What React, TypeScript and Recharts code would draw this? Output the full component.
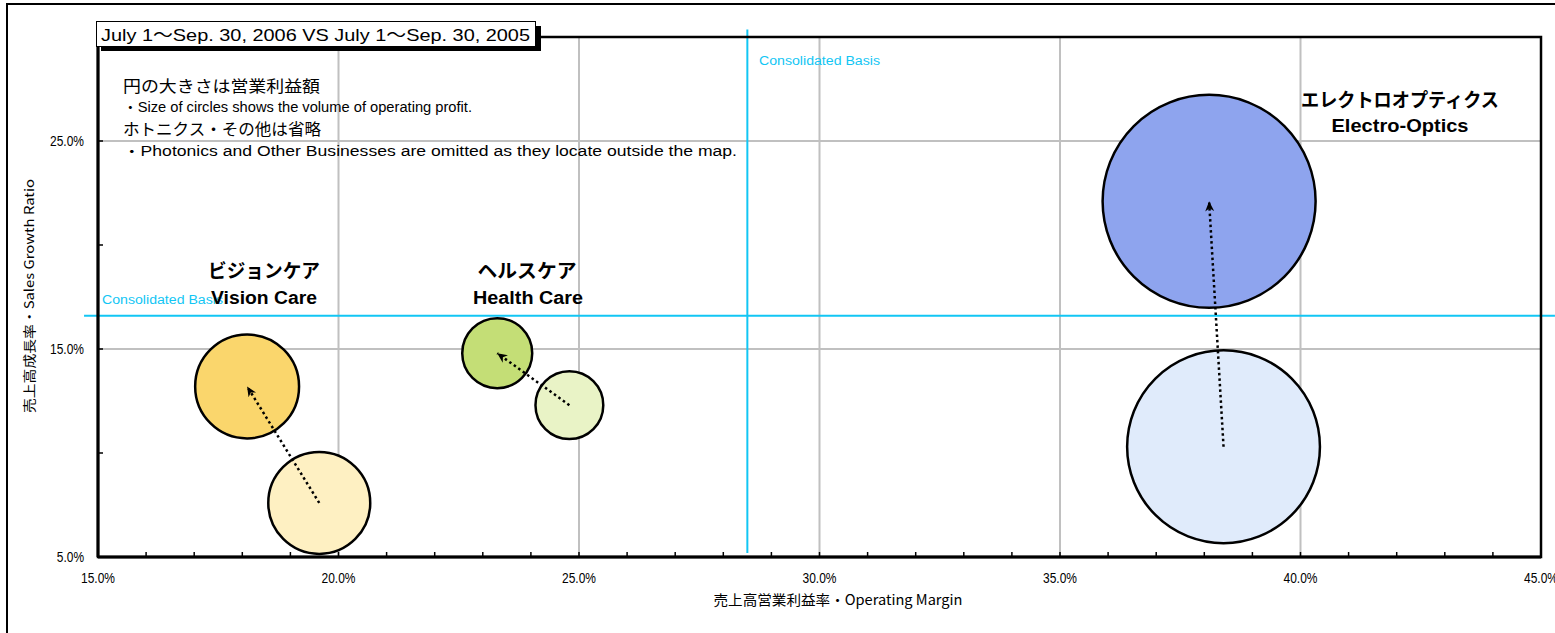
import React from 'react';
import { ScatterChart, Scatter, XAxis, YAxis, ZAxis, CartesianGrid, ReferenceLine } from 'recharts';

// ---- data ----
const segmentsJa = ['ビジョンケア', 'ヘルスケア', 'エレクトロオプティクス'];
const segmentsEn = ['Vision Care', 'Health Care', 'Electro-Optics'];
const margin2005 = [19.6, 24.8, 38.4];
const growth2005 = [7.6, 12.3, 10.3];
const profit2005 = [5.2, 2.3, 18.6];
const margin2006 = [18.1, 23.3, 38.1];
const growth2006 = [13.2, 14.8, 22.1];
const profit2006 = [5.4, 2.45, 22.7];
const consolidatedMargin = 28.5;
const consolidatedGrowth = 16.6;
const xTicks = [15, 16, 17, 18, 19, 20, 21, 22, 23, 24, 25, 26, 27, 28, 29, 30, 31, 32, 33, 34, 35, 36, 37, 38, 39, 40, 41, 42, 43, 44, 45];
const yTicks = [5, 10, 15, 20, 25];
const xGridValues = [20, 25, 30, 35, 40];
const yGridValues = [15, 25];
const xDomain: [number, number] = [15, 45];
const yDomain: [number, number] = [5, 30];
const titleText = 'July 1～Sep. 30, 2006 VS July 1～Sep. 30, 2005';
const noteLines = [
  '円の大きさは営業利益額',
  '・Size of circles shows the volume of operating profit.',
  'ホトニクス・その他は省略',
  '・Photonics and Other Businesses are omitted as  they locate outside the map.',
];
const consolidatedLabel = 'Consolidated Basis';
const xAxisTitle = '売上高営業利益率・Operating Margin';
const yAxisTitle = '売上高成長率・Sales Growth Ratio';

const data2005 = segmentsEn.map((name, i) => ({ name, seg: i, x: margin2005[i], y: growth2005[i], z: profit2005[i] }));
const data2006 = segmentsEn.map((name, i) => ({ name, seg: i, x: margin2006[i], y: growth2006[i], z: profit2006[i] }));
const arrows = segmentsEn.map((name, i) => [
  { name, x: margin2005[i], y: growth2005[i] },
  { name, x: margin2006[i], y: growth2006[i] },
]);
const maxProfit = Math.max(...profit2005, ...profit2006);

// ---- styles ----
const fill2006 = ['#FAD66C', '#C4DE76', '#8EA4EE'];
const fill2005 = ['#FEF0C2', '#E9F3C6', '#E0EBFB'];
const cyan = '#12C6F4';
const sans = "'Liberation Sans', Arial, 'Noto Sans CJK JP', sans-serif";
const narrow = "'Liberation Sans Narrow', 'Arial Narrow', 'Liberation Sans', sans-serif";
const ja = "'Noto Sans CJK JP', 'Liberation Sans', sans-serif";
const MAX_R = 106.5;

const XTick = (props: any) => {
  const { x, y, payload } = props;
  const v = payload.value as number;
  const major = v % 5 === 0;
  const label = `${v.toFixed(1)}%`;
  return (
    <g>
      <line x1={x} x2={x} y1={y} y2={y - 5} stroke="#000" strokeWidth={1.5} />
      {major && (
        <text x={x} y={y + 26} textAnchor="middle" fontSize={14} fontFamily={narrow} fill="#000"
          textLength={label.length * 6.8} lengthAdjust="spacingAndGlyphs">{label}</text>
      )}
    </g>
  );
};

const YTick = (props: any) => {
  const { x, y, payload } = props;
  const v = payload.value as number;
  const major = v % 10 === 5;
  const label = `${v.toFixed(1)}%`;
  return (
    <g>
      <line x1={x} x2={x + 5} y1={y} y2={y} stroke="#000" strokeWidth={1.5} />
      {major && (
        <text x={x - 14} y={y + 5} textAnchor="end" fontSize={14} fontFamily={narrow} fill="#000"
          textLength={label.length * 6.8} lengthAdjust="spacingAndGlyphs">{label}</text>
      )}
    </g>
  );
};

const makeBubble = (fills: string[]) => (props: any) => {
  const { cx, cy, payload } = props;
  const r = props.width ? props.width / 2 : Math.sqrt((props.size || 0) / Math.PI);
  return <circle cx={cx} cy={cy} r={r} fill={fills[payload.seg]} stroke="#000" strokeWidth={2.5} />;
};
const Bubble2005 = makeBubble(fill2005);
const Bubble2006 = makeBubble(fill2006);

const ArrowLine = (props: any) => {
  const pts = props.points || [];
  if (pts.length < 2) return <g />;
  const d = `M${pts[0].x},${pts[0].y}L${pts[1].x},${pts[1].y}`;
  return <path d={d} stroke="#000" strokeWidth={2.5} strokeDasharray="2.5 3" fill="none" markerEnd="url(#arrowHead)" />;
};

const Empty = () => <g />;

export default function App() {
  return (
    <div style={{ position: 'absolute', left: 0, top: 0, width: 1555, height: 633, background: '#fff', overflow: 'hidden' }}>
      <svg width={0} height={0} style={{ position: 'absolute' }}>
        <defs>
          <marker id="arrowHead" markerWidth="11" markerHeight="9" refX="10" refY="4.5" orient="auto" markerUnits="userSpaceOnUse">
            <path d="M0,0 L10,4.5 L0,9 L3,4.5 Z" fill="#000" />
          </marker>
        </defs>
      </svg>
      <div style={{ position: 'absolute', left: 0, top: 0 }}>
        <ScatterChart width={1555} height={633} margin={{ top: 37, right: 14, bottom: 0, left: 0 }}>
          <CartesianGrid stroke="#C0C0C0" strokeWidth={2} verticalValues={xGridValues} horizontalValues={yGridValues} />
          <XAxis type="number" dataKey="x" domain={xDomain} ticks={xTicks} interval={0} allowDataOverflow
            height={76} tick={<XTick />} tickLine={false} tickSize={0} tickMargin={0}
            axisLine={{ stroke: '#000', strokeWidth: 3 }} />
          <YAxis type="number" dataKey="y" domain={yDomain} ticks={yTicks} interval={0} allowDataOverflow
            width={98} tick={<YTick />} tickLine={false} tickSize={0} tickMargin={0}
            axisLine={{ stroke: '#000', strokeWidth: 3 }} />
          <ZAxis type="number" dataKey="z" domain={[0, maxProfit]} range={[0, Math.PI * MAX_R * MAX_R]} />
          <ReferenceLine segment={[{ x: 14.71, y: consolidatedGrowth }, { x: 45.29, y: consolidatedGrowth }]}
            stroke={cyan} strokeWidth={2} ifOverflow="visible" />
          <ReferenceLine segment={[{ x: consolidatedMargin, y: 30.36 }, { x: consolidatedMargin, y: 5.19 }]}
            stroke={cyan} strokeWidth={2} ifOverflow="visible" />
          <Scatter name="2005" data={data2005} shape={Bubble2005} isAnimationActive={false} />
          <Scatter name="2006" data={data2006} shape={Bubble2006} isAnimationActive={false} />
          {arrows.map((a, i) => (
            <Scatter key={`arrow-${i}`} name={`arrow-${i}`} data={a} shape={Empty} line={ArrowLine} isAnimationActive={false} />
          ))}
        </ScatterChart>
      </div>
      <svg width={1555} height={633} style={{ position: 'absolute', left: 0, top: 0, pointerEvents: 'none' }}>
        {/* outer frame */}
        <rect x={7} y={4} width={1600} height={700} fill="none" stroke="#000" strokeWidth={2} />
        {/* plot frame */}
        <rect x={98} y={37} width={1443} height={520} fill="none" stroke="#000" strokeWidth={2.5} />
        {/* consolidated labels */}
        <text x={759} y={65} fontSize={12} fontFamily={sans} fill={cyan} textLength={121} lengthAdjust="spacingAndGlyphs">{consolidatedLabel}</text>
        <text x={102} y={304} fontSize={12} fontFamily={sans} fill={cyan} textLength={121} lengthAdjust="spacingAndGlyphs">{consolidatedLabel}</text>
        {/* title box */}
        <rect x={101} y={26} width={440} height={25} fill="#000" />
        <rect x={96.5} y={21.5} width={439} height={25} fill="#fff" stroke="#000" strokeWidth={1} />
        <text x={101} y={41} fontSize={17} fontFamily={sans} fill="#000" textLength={429} lengthAdjust="spacingAndGlyphs">{titleText}</text>
        {/* notes */}
        <text x={123} y={92} fontSize={16} fontFamily={ja} fill="#000" textLength={197} lengthAdjust="spacingAndGlyphs">{noteLines[0]}</text>
        <text x={123} y={112} fontSize={14} fontFamily={sans} fill="#000" textLength={349} lengthAdjust="spacingAndGlyphs">{noteLines[1]}</text>
        <text x={123} y={135} fontSize={16} fontFamily={ja} fill="#000" textLength={198} lengthAdjust="spacingAndGlyphs">{noteLines[2]}</text>
        <text x={123} y={156} fontSize={14} fontFamily={sans} fill="#000" textLength={614} lengthAdjust="spacingAndGlyphs">{noteLines[3]}</text>
        {/* segment labels */}
        <text x={264} y={278} textAnchor="middle" fontSize={19} fontWeight="bold" fontFamily={ja} fill="#000" textLength={112} lengthAdjust="spacingAndGlyphs">{segmentsJa[0]}</text>
        <text x={264} y={304} textAnchor="middle" fontSize={18} fontWeight="bold" fontFamily={sans} fill="#000" textLength={106} lengthAdjust="spacingAndGlyphs">{segmentsEn[0]}</text>
        <text x={527} y={278} textAnchor="middle" fontSize={19} fontWeight="bold" fontFamily={ja} fill="#000" textLength={99} lengthAdjust="spacingAndGlyphs">{segmentsJa[1]}</text>
        <text x={528} y={304} textAnchor="middle" fontSize={18} fontWeight="bold" fontFamily={sans} fill="#000" textLength={110} lengthAdjust="spacingAndGlyphs">{segmentsEn[1]}</text>
        <text x={1400} y={107} textAnchor="middle" fontSize={19} fontWeight="bold" fontFamily={ja} fill="#000" textLength={198} lengthAdjust="spacingAndGlyphs">{segmentsJa[2]}</text>
        <text x={1400} y={132} textAnchor="middle" fontSize={18} fontWeight="bold" fontFamily={sans} fill="#000" textLength={137} lengthAdjust="spacingAndGlyphs">{segmentsEn[2]}</text>
        {/* axis titles */}
        <text x={838} y={605} textAnchor="middle" fontSize={14} fontFamily={ja} fill="#000" textLength={249} lengthAdjust="spacingAndGlyphs">{xAxisTitle}</text>
        <text x={0} y={0} transform="translate(34,296) rotate(-90)" textAnchor="middle" fontSize={13} fontFamily={ja} fill="#000" textLength={234} lengthAdjust="spacingAndGlyphs">{yAxisTitle}</text>
      </svg>
    </div>
  );
}
